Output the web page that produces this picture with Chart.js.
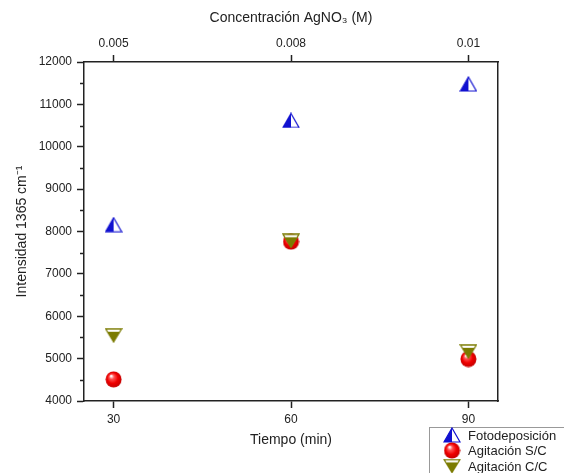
<!DOCTYPE html>
<html>
<head>
<meta charset="utf-8">
<script src="https://cdn.jsdelivr.net/npm/chart.js@4.4.0/dist/chart.umd.min.js"></script>
<style>
  html, body { margin: 0; padding: 0; background: #fff; }
  #wrap { width: 564px; height: 473px; }
</style>
</head>
<body>
<div id="wrap"><canvas id="chart"></canvas></div>
<script>
// ─── data ────────────────────────────────────────────────────────────────────
const tiempo = [30, 60, 90];
const concLabels = ['0.005', '0.008', '0.01'];
const fotodeposicion = [8160, 10620, 11480];
const agitacionSC = [4510, 7760, 4990];
const agitacionCC = [5550, 7780, 5170];
const yMajor = [4000, 5000, 6000, 7000, 8000, 9000, 10000, 11000, 12000];
const yMinor = [4500, 5500, 6500, 7500, 8500, 9500, 10500, 11500];

const INK = '#222';
const FONT = "'Liberation Sans', Arial, sans-serif";

// ─── marker images (Origin-like symbols) ─────────────────────────────────────
function makeCanvas(w, h) {
  const c = document.createElement('canvas');
  c.width = w; c.height = h;
  return c;
}

function triUpHalf() {
  const w = 18, h = 16, c = makeCanvas(w, h), g = c.getContext('2d');
  g.beginPath(); g.moveTo(w / 2, 1); g.lineTo(w - 1, h - 1); g.lineTo(1, h - 1); g.closePath();
  g.fillStyle = '#fff'; g.fill();
  g.save(); g.clip(); g.fillStyle = '#1010d0'; g.fillRect(0, 0, w / 2, h); g.restore();
  g.strokeStyle = '#1010d0'; g.lineWidth = 1.2; g.stroke();
  return c;
}

function redBall() {
  const d = 17, c = makeCanvas(d, d), g = c.getContext('2d');
  const grad = g.createRadialGradient(6, 5, 0.5, 8.5, 8.5, 8.5);
  grad.addColorStop(0, '#ffffff');
  grad.addColorStop(0.25, '#ff5050');
  grad.addColorStop(0.6, '#f00000');
  grad.addColorStop(1, '#c00000');
  g.beginPath(); g.arc(d / 2, d / 2, 8, 0, Math.PI * 2);
  g.fillStyle = grad; g.fill();
  return c;
}

function triDownHalf() {
  const w = 18, h = 15, c = makeCanvas(w, h), g = c.getContext('2d');
  g.beginPath(); g.moveTo(1, 1); g.lineTo(w - 1, 1); g.lineTo(w / 2, h - 1); g.closePath();
  g.fillStyle = '#fff'; g.fill();
  g.save(); g.clip(); g.fillStyle = '#7b7b00'; g.fillRect(0, h * 0.26, w, h); g.restore();
  g.strokeStyle = '#7b7b00'; g.lineWidth = 1.3; g.stroke();
  return c;
}

const mkFoto = triUpHalf();
const mkSC = redBall();
const mkCC = triDownHalf();

// ─── extra drawing: minor ticks on the left axis + legend box ────────────────
const extras = {
  id: 'extras',
  afterDraw(chart) {
    const ctx = chart.ctx;
    const y = chart.scales.y;
    ctx.save();
    ctx.strokeStyle = INK; ctx.lineWidth = 1.5;
    yMinor.forEach(v => {
      const py = Math.round(y.getPixelForValue(v)) + 0.5;
      ctx.beginPath(); ctx.moveTo(y.right - 4, py); ctx.lineTo(y.right, py); ctx.stroke();
    });

    // legend in the lower right corner (runs off the canvas like the original)
    const items = [
      { img: mkFoto, label: 'Fotodeposición' },
      { img: mkSC, label: 'Agitación S/C' },
      { img: mkCC, label: 'Agitación C/C' },
    ];
    ctx.strokeStyle = '#999'; ctx.lineWidth = 1;
    ctx.strokeRect(429.5, 427.5, 150, 60);
    ctx.font = `13px ${FONT}`; ctx.fillStyle = INK; ctx.textBaseline = 'middle';
    items.forEach((it, i) => {
      const cy = 435 + i * 15.5;
      ctx.drawImage(it.img, 452 - it.img.width / 2, cy - it.img.height / 2);
      ctx.fillText(it.label, 468, cy + 1);
    });
    ctx.restore();
  }
};

const toPts = vals => tiempo.map((t, i) => ({ x: t, y: vals[i] }));

new Chart(document.getElementById('chart'), {
  type: 'scatter',
  data: {
    datasets: [
      { label: 'Fotodeposición', data: toPts(fotodeposicion), pointStyle: mkFoto, order: 0 },
      { label: 'Agitación C/C', data: toPts(agitacionCC), pointStyle: mkCC, order: 1 },
      { label: 'Agitación S/C', data: toPts(agitacionSC), pointStyle: mkSC, order: 2 },
    ]
  },
  options: {
    responsive: true, maintainAspectRatio: false,
    animation: false,
    layout: { padding: { left: 10, right: 0, top: 6, bottom: 20 } },
    plugins: { legend: { display: false }, tooltip: { enabled: false } },
    scales: {
      x: {
        type: 'linear', position: 'bottom', min: 25, max: 95,
        afterBuildTicks: s => { s.ticks = tiempo.map(v => ({ value: v })); },
        ticks: { color: INK, font: { size: 12, family: FONT }, padding: 4, maxRotation: 0,
                 callback: v => String(v) },
        grid: { drawOnChartArea: false, drawTicks: true, tickLength: 7, tickColor: INK, tickWidth: 1.5 },
        border: { display: true, color: INK, width: 1.5 },
        title: { display: true, text: 'Tiempo (min)', color: INK, font: { size: 14, family: FONT } },
        afterFit: s => { s.height = 52; }
      },
      x2: {
        type: 'linear', position: 'top', min: 25, max: 95,
        afterBuildTicks: s => { s.ticks = tiempo.map(v => ({ value: v })); },
        ticks: { color: INK, font: { size: 12, family: FONT }, padding: 4, maxRotation: 0,
                 callback: (v, i) => concLabels[i] },
        grid: { drawOnChartArea: false, drawTicks: true, tickLength: 7, tickColor: INK, tickWidth: 1.5 },
        border: { display: true, color: INK, width: 1.5 },
        title: { display: true, text: 'Concentración AgNO₃ (M)', color: INK, font: { size: 14, family: FONT } },
        afterFit: s => { s.height = 56; }
      },
      y: {
        type: 'linear', position: 'left', min: 4000, max: 12000,
        afterBuildTicks: s => { s.ticks = yMajor.map(v => ({ value: v })); },
        ticks: { color: INK, font: { size: 12, family: FONT }, padding: 5, callback: v => String(v) },
        grid: { drawOnChartArea: false, drawTicks: true, tickLength: 7, tickColor: INK, tickWidth: 1.5 },
        border: { display: true, color: INK, width: 1.5 },
        title: { display: true, text: 'Intensidad 1365 cm⁻¹', color: INK, font: { size: 14, family: FONT } },
        afterFit: s => { s.width = 74; }
      },
      y2: {
        type: 'linear', position: 'right', min: 4000, max: 12000,
        ticks: { display: false },
        grid: { drawOnChartArea: false, drawTicks: false },
        border: { display: true, color: INK, width: 1.5 },
        afterFit: s => { s.width = 66; }
      }
    }
  },
  plugins: [extras]
});
</script>
</body>
</html>
